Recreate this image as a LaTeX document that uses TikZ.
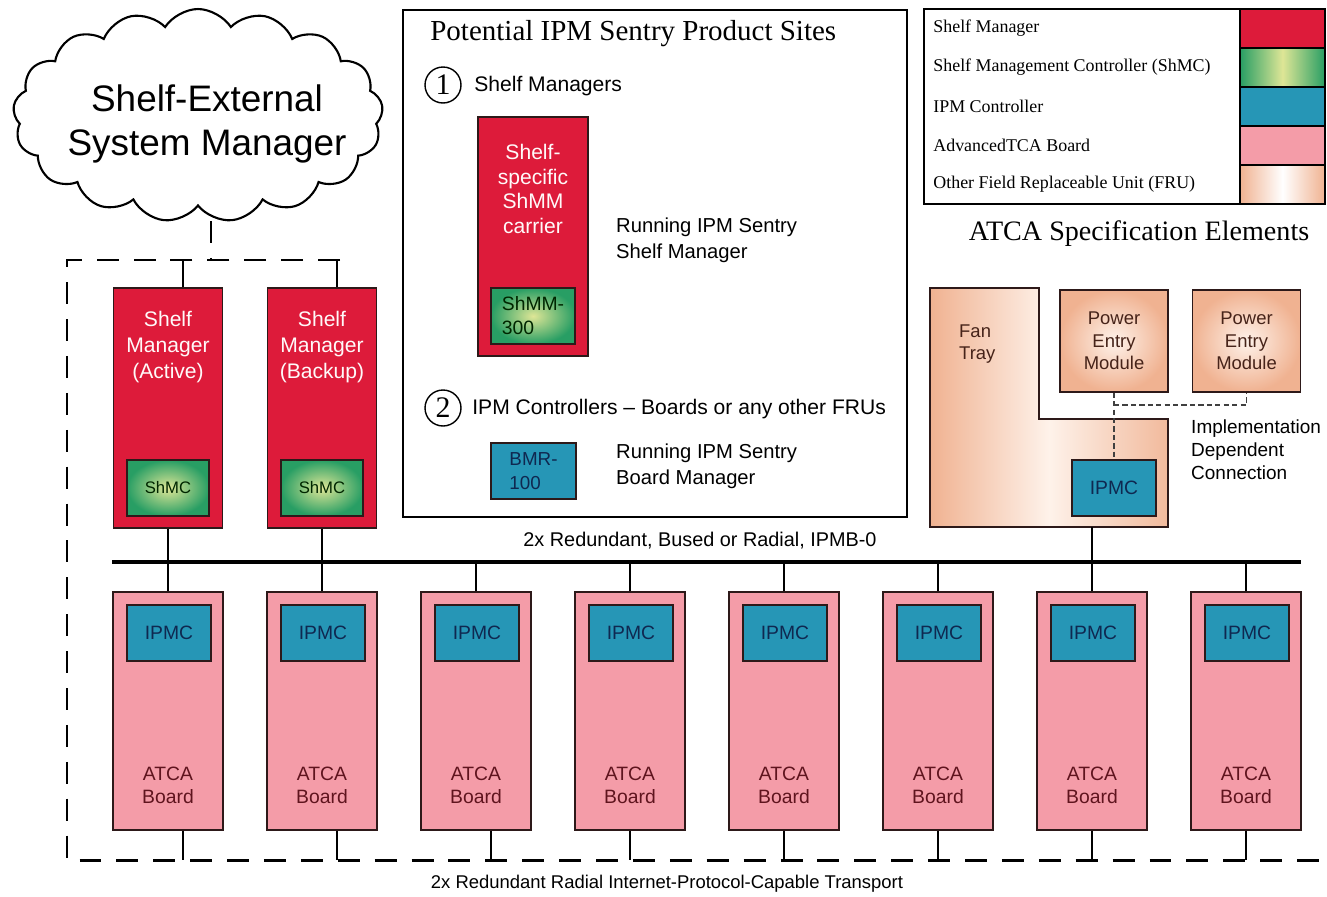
\documentclass[tikz,border=0pt]{standalone}
\usepackage{fontspec}
\setmainfont{Liberation Sans}
\newfontfamily\timesfont{Liberation Serif}
\usetikzlibrary{shapes.symbols,positioning,calc}

\definecolor{smred}{RGB}{221,27,58}
\definecolor{shmcgreen}{RGB}{40,158,100}
\definecolor{shmclight}{RGB}{222,230,150}
\definecolor{ipmblue}{RGB}{38,150,182}
\definecolor{atcapink}{RGB}{244,156,168}
\definecolor{frupeach}{RGB}{240,178,145}
\definecolor{frulight}{RGB}{254,242,234}
\definecolor{edge}{RGB}{45,25,25}
\definecolor{maroon}{RGB}{95,20,30}
\definecolor{navy}{RGB}{15,40,80}
\definecolor{brownish}{RGB}{70,35,25}

\tikzset{
  smbox/.style={draw=edge, line width=0.8pt, fill=smred, minimum width=2.18cm, minimum height=4.8cm, inner sep=0pt},
  smtxt/.style={text=white!90!pink, align=center, font=\fontsize{12}{15}\selectfont},
  shmcbox/.style={draw=edge, line width=0.8pt, inner color=shmclight, outer color=shmcgreen, minimum width=1.64cm, minimum height=1.12cm, inner sep=0pt, text=black!85!green, font=\fontsize{9.5}{12}\selectfont},
  ipmcbox/.style={draw=edge, line width=0.8pt, fill=ipmblue, minimum width=1.68cm, minimum height=1.12cm, inner sep=0pt, text=navy, font=\fontsize{11}{13.5}\selectfont},
  atcabox/.style={draw=edge, line width=0.8pt, fill=atcapink, minimum width=2.2cm, minimum height=4.76cm, inner sep=0pt},
  boardtxt/.style={text=maroon, align=center, font=\fontsize{11}{13.2}\selectfont},
  pembox/.style={draw=edge, line width=0.8pt, inner color=frulight, outer color=frupeach, minimum width=2.16cm, minimum height=2.04cm, inner sep=0pt, align=center, text=brownish, font=\fontsize{10.5}{12.8}\selectfont},
  runtxt/.style={anchor=west, align=left, font=\fontsize{11.5}{15}\selectfont},
  numcirc/.style={circle, draw, line width=0.8pt, minimum size=0.72cm, inner sep=0pt, font=\timesfont\fontsize{17}{17}\selectfont},
  swatch/.style={draw=black, line width=0.8pt, minimum width=1.7cm, minimum height=0.78cm, inner sep=0pt},
  legtxt/.style={anchor=west, inner sep=0pt, font=\timesfont\fontsize{10.2}{12}\selectfont},
  stub/.style={line width=1.4pt},
  bus/.style={line width=1.8pt},
  dashline/.style={line width=1.7pt, dash pattern=on 12.5pt off 8.5pt},
  impl/.style={line width=0.9pt, draw=black!75, dash pattern=on 3pt off 1.8pt}
}

\begin{document}
\begin{tikzpicture}[x=0.02cm,y=-0.02cm]
\fill[white] (0,0) rectangle (1327,896);
\useasboundingbox (0,0) rectangle (1327,896);

\node[cloud, cloud ignores aspect, draw, line width=1.2pt, cloud puffs=17, cloud puff arc=115, minimum width=7.4cm, minimum height=4.26cm, inner sep=0pt] (cloud) at (198,115.5) {};
\node[align=center, font=\fontsize{21}{25.5}\selectfont] (cloudtxt) at (207,124) {Shelf-External\\System Manager};
\coordinate (cloudfoot) at (211,221);

\coordinate (dTL) at (67,260);
\coordinate (dTR) at (340,260);
\coordinate (trL) at (67,860);
\coordinate (trR) at (1325,860);
\coordinate (busL) at (112,562);
\coordinate (busR) at (1301,562);

\draw[dashline] (dTR) -- (dTL) -- (trL) -- (trR);
\draw[dashline] (cloudfoot) -- (cloudfoot |- dTL);

\node[smbox] (smA) at (168,408) {};
\node[smtxt] (smAtxt) at (168,347) {Shelf\\Manager\\(Active)};
\node[shmcbox] (shmcA) at (168,488) {ShMC};
\node[smbox] (smB) at (322,408) {};
\node[smtxt] (smBtxt) at (322,347) {Shelf\\Manager\\(Backup)};
\node[shmcbox] (shmcB) at (322,488) {ShMC};
\draw[stub] ([xshift=0.3cm]smA.north) -- ([xshift=0.3cm]smA.north |- dTL);
\draw[stub] ([xshift=0.3cm]smB.north) -- ([xshift=0.3cm]smB.north |- dTL);

\foreach \i/\off in {1/0.3,2/0.3,3/0.3,4/0,5/0,6/0,7/0,8/0}{
  \node[atcabox] (board\i) at ({14+154*\i},711) {};
  \node[ipmcbox] (ipmc\i) at ({15+154*\i},633) {IPMC};
  \node[boardtxt] (btxt\i) at ({14+154*\i},785) {ATCA\\Board};
  \draw[stub] ([xshift=\off cm]board\i.south) -- ([xshift=\off cm]board\i.south |- trL);
}
\draw[stub] (smA.south) -- (board1.north);
\draw[stub] (smB.south) -- (board2.north);
\foreach \i in {3,...,8}
  \draw[stub] (board\i.north) -- (board\i.north |- busL);

% sentry sites
\node[draw, line width=0.9pt, minimum width=10.08cm, minimum height=10.14cm] (sites) at (655,263.5) {};
\node[anchor=west, inner sep=0pt, font=\timesfont\fontsize{16.5}{19}\selectfont] (sitestitle) at (430,34) {Potential IPM Sentry Product Sites};
\node[numcirc] (num1) at (443,85) {1};
\node[anchor=west, inner sep=0pt, font=\fontsize{12}{14}\selectfont] (sitesA) at (474,86) {Shelf Managers};
\node[smbox, minimum width=2.2cm, minimum height=4.78cm] (carrier) at (533,236.5) {};
\node[smtxt, font=\fontsize{12}{14}\selectfont] (carriertxt) at (533,189) {Shelf-\\specific\\ShMM\\carrier};
\node[shmcbox, minimum width=1.68cm, align=left, font=\fontsize{11}{13.6}\selectfont] (shmm) at (533,316) {ShMM-\\300};
\node[runtxt] (runA) at (610,240) {Running IPM Sentry\\Shelf Manager};
\node[numcirc] (num2) at (443,408) {2};
\node[anchor=west, inner sep=0pt, font=\fontsize{12}{14}\selectfont] (sitesB) at (472,409) {IPM Controllers – Boards or any other FRUs};
\node[ipmcbox, minimum width=1.7cm, align=left, font=\fontsize{10.7}{13.6}\selectfont] (bmr) at (533.5,471) {BMR-\\100};
\node[runtxt] (runB) at (610,466) {Running IPM Sentry\\Board Manager};

% legend
\draw[line width=0.9pt] (924,9) rectangle (1325,204);
\node[swatch, fill=smred] (sw1) at (1282.5,28.5) {};
\node[swatch, left color=shmcgreen, right color=shmcgreen, middle color=shmclight] (sw2) at (1282.5,67.5) {};
\node[swatch, fill=ipmblue] (sw3) at (1282.5,106.5) {};
\node[swatch, fill=atcapink] (sw4) at (1282.5,145.5) {};
\node[swatch, left color=frupeach, right color=frupeach, middle color=white] (sw5) at (1282.5,184.5) {};
\node[legtxt] (leg1) at (933,28) {Shelf Manager};
\node[legtxt] (leg2) at (933,67) {Shelf Management Controller (ShMC)};
\node[legtxt] (leg3) at (933,106) {IPM Controller};
\node[legtxt] (leg4) at (933,145) {AdvancedTCA Board};
\node[legtxt] (leg5) at (933,184) {Other Field Replaceable Unit (FRU)};
\node[font=\timesfont\fontsize{16}{19}\selectfont] (spectitle) at (1139,234) {ATCA Specification Elements};

% fan tray and power entry
\path[draw=edge, line width=0.8pt, left color=frupeach, right color=frupeach!90!white, middle color=frulight] (930,288) -- (1039,288) -- (1039,419) -- (1168,419) -- (1168,527) -- (930,527) -- cycle;
\node[anchor=west, align=left, text=brownish, font=\fontsize{10.5}{12.5}\selectfont] (fantxt) at (953,344) {Fan\\Tray};
\node[pembox] (pem1) at (1114,341) {Power\\Entry\\Module};
\node[pembox] (pem2) at (1246.5,341) {Power\\Entry\\Module};
\node[ipmcbox] (fipmc) at (1114,488) {IPMC};
\coordinate (jn) at (1114,405);
\draw[impl] (pem1.south) -- (fipmc.north);
\draw[impl] (jn) -| (pem2.south);
\node[anchor=west, align=left, font=\fontsize{10.8}{13}\selectfont] (impltxt) at (1185,450) {Implementation\\Dependent\\Connection};
\coordinate (fanfoot) at (1092,527);
\draw[stub] (fanfoot) -- (fanfoot |- busL);

% bus
\draw[bus] (busL) -- (busR);
\node[font=\fontsize{11.3}{13}\selectfont] (buslbl) at (700,541) {2x Redundant, Bused or Radial, IPMB-0};
\node[font=\fontsize{10.5}{12}\selectfont] (trlbl) at (667,884) {2x Redundant Radial Internet-Protocol-Capable Transport};
\end{tikzpicture}
\end{document}
